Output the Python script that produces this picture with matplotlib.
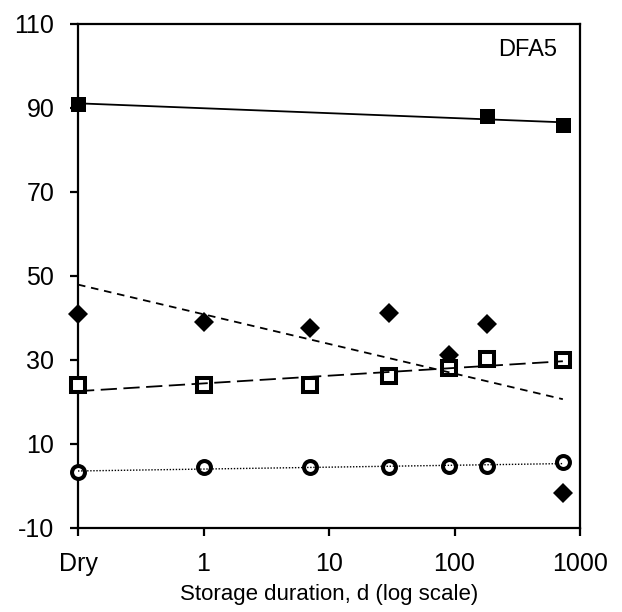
import numpy as np
import matplotlib
matplotlib.use('Agg')
import matplotlib.pyplot as plt

plt.rcParams['font.family'] = ['Liberation Sans', 'DejaVu Sans']
plt.rcParams['axes.unicode_minus'] = False

# storage duration in days; "Dry" is placed at 0.1 on the log axis
days = [0.1, 1, 7, 30, 90, 180, 730]
days_filled = [0.1, 180, 730]

filled_sq = [91, 88, 86]
diamond = [41, 39, 37.5, 41.3, 31.2, 38.5, -1.6]
open_sq = [24, 24, 24, 26.2, 28, 30.2, 30]
open_circ = [3.4, 4.4, 4.4, 4.6, 4.8, 4.8, 5.6]

xticks = [0.1, 1, 10, 100, 1000]
xtick_labels = ['Dry', '1', '10', '100', '1000']
yticks = [-10, 10, 30, 50, 70, 90, 110]


def log_fit(x, y):
    # straight line on the log axis, spanning the data range
    lx = np.log10(x)
    slope, icpt = np.polyfit(lx, y, 1)
    xs = np.array([min(x), max(x)])
    return xs, slope * np.log10(xs) + icpt


fig = plt.figure(figsize=(6.22, 6.12), dpi=100)
ax = fig.add_axes([0.1254, 0.1373, 0.8071, 0.8235])

ax.plot(days, diamond, 'D', color='black', ms=10.3, mew=0, zorder=3, clip_on=False)
ax.plot(days_filled, filled_sq, 's', color='black', ms=10.8, mew=0, zorder=3, clip_on=False)
ax.plot(days, open_sq, 's', mfc='white', mec='black', ms=10, mew=2.9, zorder=4, clip_on=False)
ax.plot(days, open_circ, 'o', mfc='white', mec='black', ms=9.3, mew=2.9, zorder=4, clip_on=False)

# trend lines on top of the markers
xs, ys = log_fit(days_filled, filled_sq)
ax.plot(xs, ys, '-', color='black', lw=1.3, zorder=5)
xs, ys = log_fit(days, diamond)
ax.plot(xs, ys, color='black', lw=1.3, dashes=(4.2, 3.2), zorder=5)
xs, ys = log_fit(days, open_sq)
ax.plot(xs, ys, color='black', lw=1.3, dashes=(9, 3.6), zorder=5)
xs, ys = log_fit(days, open_circ)
ax.plot(xs, ys, color='black', lw=1.0, dashes=(1, 1.2), zorder=5)

ax.set_xscale('log')
ax.set_xlim(0.1, 1000)
ax.set_ylim(-10, 110)
ax.set_xticks(xticks)
ax.set_xticklabels(xtick_labels)
ax.xaxis.set_minor_locator(matplotlib.ticker.NullLocator())
ax.set_yticks(yticks)

for s in ax.spines.values():
    s.set_linewidth(1.6)
ax.tick_params(axis='both', direction='out', length=6, width=1.6, labelsize=18, pad=11)

ax.set_xlabel('Storage duration, d (log scale)', fontsize=16, labelpad=6)
ax.text(0.954, 0.9365, 'DFA5', transform=ax.transAxes, ha='right', va='baseline', fontsize=17)

fig.savefig('out.png', dpi=100)
